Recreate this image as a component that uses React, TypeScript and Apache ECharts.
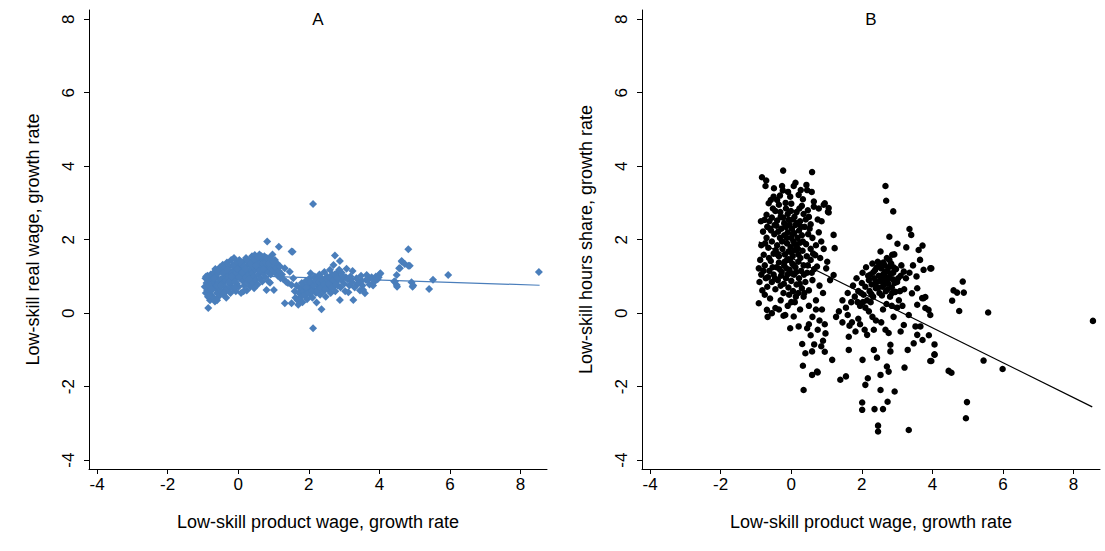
import React, { useEffect, useRef } from "react";
import * as echarts from "echarts";

const xTicks = [-4, -2, 0, 2, 4, 6, 8];
const yTicks = [-4, -2, 0, 2, 4, 6, 8];
const panelTitles = ["A", "B"];
const xTitle = "Low-skill product wage, growth rate";
const yTitleA = "Low-skill real wage, growth rate";
const yTitleB = "Low-skill hours share, growth rate";

// Panel A: real wage growth vs product wage growth
const pointsA: number[][] = [
  [-0.95,0.72],[-0.93,0.95],[-0.92,0.55],[-0.9,0.82],[-0.88,0.62],[-0.87,1.02],[-0.86,0.45],[-0.85,0.14],[-0.84,0.75],[-0.82,0.9],[-0.8,0.35],[-0.8,0.6],
  [-0.78,1.05],[-0.77,0.5],[-0.75,0.78],[-0.74,0.92],[-0.72,0.65],[-0.7,1.1],[-0.7,0.42],[-0.68,0.85],[-0.66,0.32],[-0.65,1.2],[-0.64,0.7],[-0.62,0.98],[-0.6,0.55],[-0.58,1.08],[-0.57,0.82],[-0.55,0.46],[-0.54,0.68],[-0.52,1.25],[-0.5,0.92],
  [-0.48,0.6],[-0.47,1.15],[-0.45,0.8],[-0.44,1.32],[-0.42,0.5],[-0.4,1.0],[-0.39,0.72],[-0.37,1.22],[-0.35,0.88],[-0.34,0.42],[-0.32,1.38],[-0.3,0.65],[-0.29,1.05],[-0.27,0.95],[-0.25,1.28],[-0.24,0.78],[-0.22,0.55],[-0.2,1.12],[-0.2,1.45],
  [-0.18,0.85],[-0.17,1.3],[-0.15,0.68],[-0.14,1.02],[-0.12,1.5],[-0.1,0.92],[-0.09,1.18],[-0.07,0.6],[-0.05,1.38],[-0.04,0.8],[-0.02,1.08],[0,1.25],[0.01,0.72],[0.03,1.45],[0.05,0.95],[0.06,1.15],[0.08,0.55],[0.1,1.32],
  [0.12,0.88],[0.13,1.05],[0.15,1.4],[0.17,0.75],[0.18,1.22],[0.2,0.98],[0.22,1.5],[0.24,0.62],[0.25,1.12],[0.27,1.32],[0.28,0.85],[0.3,1.05],[0.32,1.42],[0.34,0.72],[0.35,1.2],[0.37,0.95],[0.39,1.55],[0.4,1.1],
  [0.42,0.82],[0.44,1.35],[0.45,1.0],[0.47,1.58],[0.49,1.18],[0.5,0.9],[0.52,1.45],[0.54,1.25],[0.55,0.78],[0.57,1.05],[0.59,1.38],[0.6,1.6],[0.62,0.95],[0.64,1.28],[0.65,1.12],[0.67,1.48],[0.68,0.86],[0.7,1.35],
  [0.72,1.08],[0.74,1.55],[0.75,1.2],[0.77,0.98],[0.79,1.42],[0.8,0.63],[0.82,1.95],[0.83,1.3],[0.85,1.12],[0.86,0.86],[0.88,1.5],[0.9,1.25],[0.9,0.83],[0.92,1.05],[0.95,1.38],[0.97,1.6],[0.99,1.18],[1.01,0.63],[1.02,1.3],[1.04,1.45],[1.06,1.1],[1.08,1.22],[1.1,1.35],[1.12,1.02],[1.15,1.81],[1.15,1.15],[1.18,1.28],[1.2,0.95],
  [-0.91,1.0],[-0.83,0.48],[-0.76,0.65],[-0.69,0.95],[-0.61,0.75],[-0.56,1.15],[-0.49,0.75],[-0.43,1.1],[-0.36,0.62],[-0.31,1.18],[-0.26,0.85],[-0.19,1.0],[-0.13,1.28],[-0.08,0.85],[-0.03,1.2],[0.02,0.98],[0.07,1.4],[0.11,1.1],[0.16,1.28],[0.21,1.2],[0.26,1.45],[0.31,0.92],[0.36,1.35],[0.41,1.28],[0.46,1.45],[0.51,1.3],[0.56,1.52],[0.61,1.15],[0.66,1.55],[0.71,1.2],[0.76,1.38],[0.81,1.5],[0.87,1.35],[0.93,1.48],[1.0,1.4],[-0.6,0.35],[-0.4,0.55],[-0.1,0.7],[0.15,0.6],[0.45,0.68],
  [1.24,1.05],[1.28,0.92],[1.32,1.22],[1.32,0.27],[1.36,0.85],[1.41,0.82],[1.46,1.13],[1.51,0.77],[1.51,1.68],[1.51,0.27],[1.54,1.67],[1.56,0.95],
  [1.6,0.6],[1.62,0.42],[1.65,0.75],[1.68,0.35],[1.7,0.23],[1.72,0.55],[1.75,0.68],[1.78,0.45],[1.8,0.82],[1.82,0.3],[1.85,0.6],[1.88,0.72],[1.9,0.5],[1.92,0.88],[1.95,0.38],[1.97,0.65],[2.0,0.78],[2.02,0.95],[2.03,0.52],[2.05,1.09],[2.07,0.7],[2.1,0.42],[2.12,2.97],[2.12,-0.41],[2.13,0.85],[2.15,0.62],[2.17,1.0],[2.2,0.55],[2.22,0.29],[2.23,0.78],[2.25,0.92],[2.27,0.68],[2.3,1.05],[2.32,0.5],[2.34,0.82],[2.36,0.11],[2.37,0.95],[2.4,0.72],[2.42,0.6],[2.44,1.12],[2.46,0.88],[2.48,0.45],[2.5,0.78],[2.52,1.0],[2.55,0.65],[2.57,0.9],[2.6,1.18],[2.62,0.55],[2.64,0.82],[2.66,1.05],[2.68,0.72],[2.7,1.31],[2.72,0.95],[2.74,1.57],[2.75,0.6],[2.78,0.85],[2.8,1.1],[2.82,0.75],[2.85,0.98],[2.88,1.42],[2.88,0.36],[2.9,0.7],[2.92,0.9],
  [1.87,0.48],[1.93,0.7],[1.99,0.55],[2.04,0.85],[2.08,0.6],[2.14,0.75],[2.19,0.88],[2.24,0.62],[2.29,0.85],[2.33,0.68],[2.39,0.88],[2.43,0.78],[2.47,0.65],[2.51,0.92],[2.56,0.8],[2.61,0.95],[2.65,0.7],[2.69,0.9],[2.73,1.05],[2.77,0.78],[2.81,0.95],[2.86,1.18],[2.93,1.1],[3.05,0.98],[3.2,0.92],[3.36,0.78],[3.5,0.88],[3.7,0.95],[3.82,0.75],[3.98,0.98],
  [2.95,1.02],[3.0,0.8],[3.03,0.6],[3.07,1.21],[3.1,0.92],[3.12,0.57],[3.15,0.75],[3.18,1.0],[3.22,0.85],[3.24,1.15],[3.26,0.36],[3.3,0.7],[3.35,0.95],[3.4,0.82],[3.45,0.62],[3.48,1.02],[3.52,0.75],[3.54,0.63],[3.59,0.54],[3.62,0.9],[3.64,1.04],[3.68,0.91],[3.72,0.78],[3.78,0.98],[3.85,0.85],[3.9,1.0],[3.95,0.92],[4.01,1.06],[4.03,1.09],
  [4.42,0.86],[4.44,0.86],[4.49,0.77],[4.5,0.72],[4.49,1.04],[4.56,1.22],[4.58,1.22],[4.63,1.42],[4.64,1.4],[4.72,1.34],[4.82,1.29],[4.82,1.74],[4.86,1.29],[4.91,0.84],[4.94,0.72],[4.96,0.75],[5.41,0.66],[5.52,0.91],[5.95,1.04],[8.52,1.12]
];
const fitXA = [-0.95, 8.54];
const fitYA = [1.06, 0.76];

// Panel B: hours share growth vs product wage growth
const pointsB: number[][] = [
  [-0.83,3.7],[-0.71,3.61],[-0.73,3.46],[-0.23,3.88],[0.59,3.84],[-0.26,3.46],[-0.24,3.34],[0.07,3.46],[0.12,3.55],[0.43,3.49],[0.45,3.35],[-0.5,3.17],[-0.4,3.08],[-0.64,2.99],[-0.58,3.08],[-0.03,3.17],[0.21,3.22],[0.64,3.04],[0.64,2.9],[0.92,2.95],[1.06,2.86],[1.06,2.74],[-0.35,2.95],[-0.15,2.85],[0.0,2.98],[0.3,2.92],[0.15,2.75],[-0.45,2.78],[-0.7,2.68],[-0.55,2.6],[-0.3,2.62],[-0.1,2.7],[0.05,2.55],[0.35,2.7],[0.5,2.62],[0.25,2.5],[-0.2,2.45],[-0.62,2.5],[-0.76,2.54],[0.75,2.55],[0.55,2.42],[-0.4,2.52],
  [-0.8,2.22],[-0.85,1.85],[-0.78,1.59],[-0.88,1.45],[-0.92,1.22],[-0.7,2.05],[-0.65,1.78],[-0.6,2.3],[-0.55,1.95],[-0.5,1.62],[-0.48,2.15],[-0.42,2.38],[-0.4,1.85],[-0.35,1.55],[-0.32,2.05],[-0.28,2.3],[-0.25,1.75],[-0.2,2.12],[-0.18,1.6],[-0.15,2.35],[-0.12,1.9],[-0.1,2.2],[-0.08,1.68],[-0.05,2.42],[-0.02,1.8],[0.0,2.05],[0.02,2.3],[0.04,1.55],[0.06,1.95],[0.08,2.18],[0.1,1.72],[0.12,2.4],[0.15,1.85],[0.18,2.05],[0.2,1.6],[0.22,2.25],[0.25,1.92],[0.3,2.12],[0.32,1.7],[0.38,2.35],[0.42,1.88],[0.48,2.15],[0.55,1.75],[0.6,2.05],[0.7,1.85],[0.78,2.2],[0.85,1.95],[0.95,2.99],[1.04,2.76],[1.2,2.13],[1.23,1.77],[0.68,1.58],
  [-0.9,0.85],[-0.85,1.05],[-0.82,0.62],[-0.75,1.3],[-0.72,0.95],[-0.68,0.72],[-0.62,1.15],[-0.58,1.42],[-0.55,0.85],[-0.5,1.05],[-0.45,0.65],[-0.42,1.25],[-0.38,0.9],[-0.35,1.38],[-0.3,0.75],[-0.27,1.12],[-0.22,0.55],[-0.2,1.3],[-0.15,0.95],[-0.12,1.45],[-0.08,0.7],[-0.05,1.18],[0.0,0.88],[0.03,1.35],[0.05,0.6],[0.08,1.05],[0.12,1.25],[0.15,0.78],[0.2,1.4],[0.22,0.95],[0.28,1.15],[0.3,0.68],[0.35,1.3],[0.4,0.85],[0.45,1.1],[0.5,0.62],[0.55,1.45],[0.6,0.9],[0.65,1.2],[0.73,1.27],[0.99,1.22],[1.2,1.04],[0.8,0.75],[0.9,0.55],
  [-0.52,2.85],[-0.47,2.4],[-0.44,1.72],[-0.37,2.22],[-0.33,1.2],[-0.31,2.75],[-0.26,1.95],[-0.23,2.6],[-0.19,1.4],[-0.16,3.0],[-0.13,2.05],[-0.11,1.05],[-0.07,2.55],[-0.04,1.45],[-0.01,2.78],[0.01,1.65],[0.04,2.15],[0.07,1.3],[0.09,2.62],[0.11,1.88],[0.14,1.12],[0.17,2.45],[0.19,1.75],[0.23,2.85],[0.26,1.5],[0.28,2.35],[0.33,1.95],[0.36,1.05],[0.41,2.55],[0.44,1.55],[-0.57,2.25],[-0.63,1.5],[-0.68,2.35],[-0.74,1.9],[-0.79,1.15],[-0.86,2.5],[-0.66,0.98],[-0.53,1.25],[-0.46,0.95],[-0.39,1.6],[-0.29,1.02],[-0.21,0.8],[-0.14,1.22],[-0.06,0.5],[0.02,1.08],[0.13,0.45],[0.24,0.8],[0.37,0.55],[0.47,1.3],[0.58,1.1],[0.62,1.62],[0.52,2.3],[0.47,2.8],[0.33,3.1],[-0.09,3.3],[-0.32,3.2],[-0.49,3.4],[0.27,3.35],[0.58,3.3],[0.78,2.85],[0.86,2.5],[0.82,1.5],[0.92,1.75],[1.02,1.4],[1.1,0.9],[0.7,0.1],[0.5,-0.3],[0.2,0.55],[0.0,0.3],[-0.35,0.1],[-0.75,0.5],[-0.55,0.0],
  [-0.92,0.27],[-0.69,0.09],[-0.67,-0.1],[-0.45,0.14],[-0.22,-0.07],[-0.17,-0.05],[0.07,-0.09],[-0.03,-0.41],[0.21,-0.36],[0.45,-0.41],[-0.6,0.4],[-0.3,0.35],[-0.1,0.2],[0.1,0.3],[0.25,0.1],[0.35,0.45],[0.5,0.2],[0.6,-0.1],[0.7,0.35],[0.8,-0.2],[0.87,0.1],[0.95,-0.3],[0.97,-0.55],[0.9,-0.75],[0.75,-0.45],[0.55,-0.6],[0.85,-0.9],[0.95,-1.05],[0.65,-0.85],[0.31,-0.84],[0.4,-1.09],[0.33,-1.43],[0.35,-2.09],[0.59,-1.68],[0.75,-1.61],[0.59,-1.04],[0.73,-1.59],[1.16,-1.27],[1.39,-1.81],
  [2.67,3.46],[2.69,3.06],[2.89,2.77],[3.35,2.29],[3.4,2.13],[3.72,1.84],[3.61,1.72],[3.01,1.89],[3.26,1.79],[2.78,2.08],[2.53,1.68],[2.86,1.59],[2.92,1.6],[3.75,1.18],[3.94,1.22],[3.19,1.13],
  [1.35,0.05],[1.45,0.35],[1.55,0.15],[1.6,0.55],[1.7,0.3],[1.75,0.75],[1.8,0.45],[1.85,0.95],[1.9,0.6],[1.95,0.2],[2.0,0.82],[2.02,1.1],[2.05,0.5],[2.1,0.72],[2.12,1.25],[2.15,0.35],[2.2,0.9],[2.22,0.6],[2.25,1.05],[2.28,0.78],[2.3,1.35],[2.32,0.45],[2.35,0.95],[2.38,1.18],[2.4,0.68],[2.42,0.85],[2.45,1.4],[2.48,1.02],[2.5,0.55],[2.52,0.88],[2.55,1.22],[2.58,0.72],[2.6,1.05],[2.62,0.92],[2.65,1.3],[2.68,0.6],[2.7,0.98],[2.72,1.15],[2.75,0.8],[2.78,1.45],[2.8,0.45],[2.82,1.08],[2.85,0.7],[2.88,0.92],[2.9,1.25],[2.95,0.58],[3.0,0.85],[3.05,0.35],[3.1,1.02],[3.15,0.2],[3.2,0.65],
  [2.03,0.3],[2.18,1.02],[2.27,0.52],[2.33,1.12],[2.37,0.8],[2.43,1.25],[2.47,0.7],[2.51,1.35],[2.54,0.95],[2.57,0.48],[2.61,1.38],[2.63,0.78],[2.66,1.12],[2.69,0.88],[2.71,1.5],[2.73,0.65],[2.76,1.25],[2.79,0.95],[2.83,1.35],[2.86,0.55],[2.89,1.1],[2.93,0.82],[2.97,1.2],[3.03,0.95],[3.08,0.6],[3.12,1.3],[3.25,0.95],[3.35,1.1],[3.45,1.3],[3.55,1.0],[3.65,1.45],[2.25,0.3],[2.1,0.15],[1.98,0.55],[1.88,0.3],[1.72,-0.25],[2.3,-0.1],[2.55,-0.25],[2.85,0.2],[3.1,-0.5],
  [3.57,0.68],[3.42,0.54],[3.75,0.41],[3.8,0.14],[3.57,0.23],[3.71,0.41],[3.8,0.44],[3.89,0.09],[3.94,-0.05],[3.33,-0.05],[3.19,-0.32],[3.52,-0.36],[3.66,-0.36],[3.57,-0.59],[3.72,-0.73],[3.47,-0.82],[3.3,-1.0],[4.06,-1.13],[3.94,-1.3],[3.21,-1.48],[2.71,-1.45],[2.76,-1.59],[2.53,-1.68],[2.17,-1.77],[2.1,-1.95],[2.53,-2.09],[2.93,-2.13],[2.73,-2.41],[2.01,-2.43],[2.01,-2.63],[2.36,-2.61],[2.6,-2.61],[2.46,-3.06],[2.46,-3.22],[3.33,-3.18],[1.55,-1.72],[1.63,-1.0],[2.02,-1.27],[2.34,-1.0],[2.43,-1.21],[2.81,-0.86],[2.81,-1.04],[1.63,-0.64],[2.15,-0.59],[2.34,-0.45],[2.67,-0.45],[2.76,-0.54],[1.65,-0.34],[2.08,-0.45],[1.82,-0.5],
  [1.27,-0.1],[1.45,-0.25],[1.6,-0.05],[1.9,-0.15],[2.2,0.05],[2.4,-0.2],[2.6,0.1],[2.9,-0.1],[3.0,0.15],[2.7,0.25],[1.95,-0.3],
  [3.97,1.22],[4.86,0.86],[4.6,0.62],[4.7,0.56],[4.89,0.56],[4.56,0.34],[4.76,0.06],[5.58,0.02],[8.55,-0.21],[4.06,-1.12],[3.97,-1.3],[4.46,-1.57],[4.54,-1.62],[5.45,-1.29],[5.99,-1.52],[4.98,-2.42],[4.95,-2.86],[4.06,-0.85],[3.9,-0.6]
];
const fitXB = [-0.92, 8.53];
const fitYB = [1.94, -2.55];

const FONT = "Liberation Sans, Arial, sans-serif";
const BLUE = "#4a7ebb";

function xAxisCfg(gridIndex: number) {
  return {
    type: "value",
    gridIndex,
    min: -4.23,
    max: 8.75,
    name: xTitle,
    nameLocation: "middle",
    nameGap: 44,
    nameTextStyle: { fontSize: 18, color: "#000", fontFamily: FONT },
    axisLine: { show: true, onZero: false, lineStyle: { color: "#000", width: 1 } },
    axisTick: { show: true, length: 5, customValues: xTicks, lineStyle: { color: "#000" } },
    axisLabel: { customValues: xTicks, fontSize: 17, color: "#000", fontFamily: FONT, margin: 7 },
    splitLine: { show: false },
  };
}

function yAxisCfg(gridIndex: number, name: string) {
  return {
    type: "value",
    gridIndex,
    min: -4.24,
    max: 8.25,
    name,
    nameLocation: "middle",
    nameGap: 47,
    nameTextStyle: { fontSize: 18, color: "#000", fontFamily: FONT },
    axisLine: { show: true, onZero: false, lineStyle: { color: "#000", width: 1 } },
    axisTick: { show: true, length: 5, customValues: yTicks, lineStyle: { color: "#000" } },
    axisLabel: { customValues: yTicks, rotate: 90, fontSize: 17, color: "#000", fontFamily: FONT, margin: 12 },
    splitLine: { show: false },
  };
}

export default function App() {
  const ref = useRef<HTMLDivElement>(null);
  useEffect(() => {
    if (!ref.current) return;
    const chart = echarts.init(ref.current, null, { renderer: "svg" });
    chart.setOption({
      animation: false,
      backgroundColor: "#fff",
      graphic: [
        { type: "text", x: 318, y: 19, style: { text: panelTitles[0], fontSize: 17, fill: "#000", fontFamily: FONT, textAlign: "center", textVerticalAlign: "middle" } },
        { type: "text", x: 871, y: 19, style: { text: panelTitles[1], fontSize: 17, fill: "#000", fontFamily: FONT, textAlign: "center", textVerticalAlign: "middle" } },
      ],
      grid: [
        { left: 89, top: 10, width: 458, height: 459 },
        { left: 642, top: 10, width: 458, height: 459 },
      ],
      xAxis: [xAxisCfg(0), xAxisCfg(1)],
      yAxis: [yAxisCfg(0, yTitleA), yAxisCfg(1, yTitleB)],
      series: [
        {
          type: "line",
          xAxisIndex: 0,
          yAxisIndex: 0,
          data: fitXA.map((x, i) => [x, fitYA[i]]),
          symbol: "none",
          lineStyle: { color: BLUE, width: 1.2 },
          z: 1,
        },
        {
          type: "scatter",
          xAxisIndex: 0,
          yAxisIndex: 0,
          data: pointsA,
          symbol: "diamond",
          symbolSize: 8,
          itemStyle: { color: BLUE, opacity: 1 },
          z: 2,
        },
        {
          type: "scatter",
          xAxisIndex: 1,
          yAxisIndex: 1,
          data: pointsB,
          symbol: "circle",
          symbolSize: 6.5,
          itemStyle: { color: "#000", opacity: 1 },
          z: 2,
        },
        {
          type: "line",
          xAxisIndex: 1,
          yAxisIndex: 1,
          data: fitXB.map((x, i) => [x, fitYB[i]]),
          symbol: "none",
          lineStyle: { color: "#000", width: 1.2 },
          z: 3,
        },
      ],
    });
    return () => chart.dispose();
  }, []);
  return (
    <div
      ref={ref}
      style={{ position: "fixed", left: 0, top: 0, width: 1105, height: 551, background: "#fff" }}
    />
  );
}
